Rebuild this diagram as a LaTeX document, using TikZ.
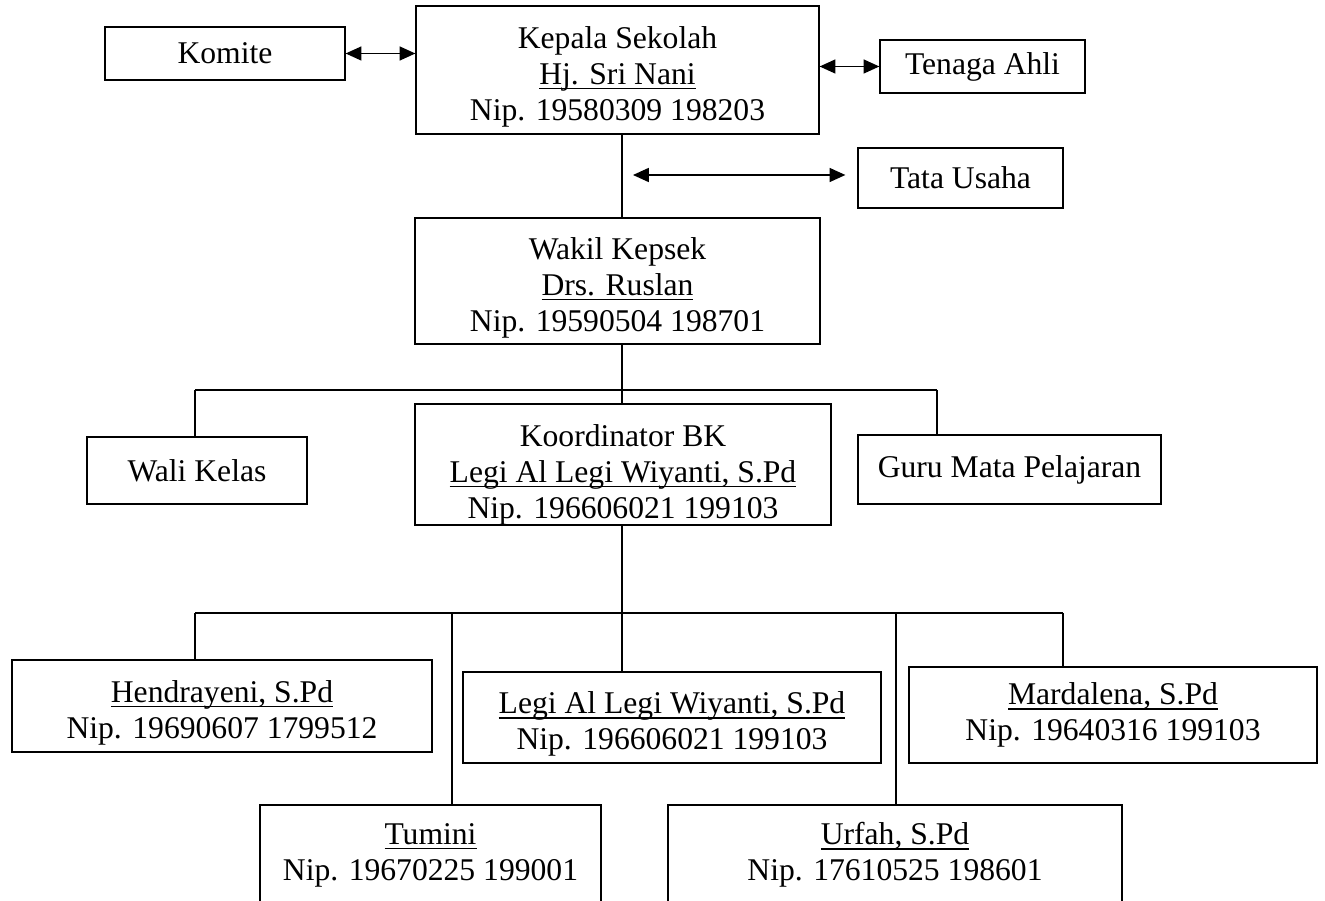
\documentclass[tikz,border=0pt]{standalone}
\usepackage{fontspec}
\setmainfont{Liberation Serif}
\usepackage{tikz}
\usetikzlibrary{arrows.meta}

% underlined name, Word style
\newcommand{\nama}[1]{\leavevmode\setbox0=\hbox{#1}\rlap{\rule[-2.8pt]{\wd0}{0.75pt}}\box0}
% extra head room on the first line
\newcommand{\naik}{\rule{0pt}{20pt}}

\begin{document}
\begin{tikzpicture}[x=0.02cm, y=-0.02cm,
    >={Triangle[length=9pt, width=8pt]},
    box/.style={
      draw, line width=0.75pt, inner sep=0pt, align=center,
      font=\fontsize{18}{20.5}\selectfont
    },
    link/.style={line width=0.75pt},
    duo/.style={<->, line width=0.75pt}
  ]
  \useasboundingbox (0,0) rectangle (1325,901);

  % ===== Top: head of school and helpers =====
  \node[box, minimum width=8.06cm, minimum height=2.56cm] (kepala) at (617.5,70) {
    \naik Kepala Sekolah\\
    \nama{Hj. Sri Nani}\\
    Nip. 19580309 198203
  };
  \node[box, minimum width=4.8cm, minimum height=1.06cm] (komite) at (225,53.5) {Komite};
  \node[box, minimum width=4.1cm, minimum height=1.06cm] (tenaga) at (982.5,66.5) {Tenaga Ahli};
  \node[box, minimum width=4.1cm, minimum height=1.2cm] (tata) at (960.5,178) {Tata Usaha};

  \draw[duo] (komite.east) -- (komite.east -| kepala.west);
  \draw[duo] (kepala.east |- tenaga.west) -- (tenaga.west);

  % spine and free arrow to Tata Usaha
  \coordinate (spine) at (622,0);
  \coordinate (tuL) at (633,175);
  \draw[duo, shorten >=0.24cm] (tuL) -- (tuL -| tata.west);

  % ===== Deputy =====
  \node[box, minimum width=8.1cm, minimum height=2.52cm] (wakil) at (617.5,281) {
    \naik Wakil Kepsek\\
    \nama{Drs. Ruslan}\\
    Nip. 19590504 198701
  };
  \draw[link] (kepala.south -| spine) -- (wakil.north -| spine);

  % ===== Middle row =====
  \node[box, minimum width=4.4cm, minimum height=1.34cm] (wali) at (197,470.5) {Wali Kelas};
  \node[box, minimum width=8.32cm, minimum height=2.38cm] (koord) at (623,464.5) {
    \rule{0pt}{24pt}Koordinator BK\\
    \nama{Legi Al Legi Wiyanti, S.Pd}\\
    Nip. 196606021 199103
  };
  \node[box, minimum width=6.06cm, minimum height=1.38cm] (guru) at (1009.5,469.5) {Guru Mata Pelajaran};

  \coordinate (barA) at (622,390);
  \coordinate (waliT) at (195,390);
  \coordinate (guruT) at (937,390);
  \draw[link] (wakil.south -| spine) -- (barA);
  \draw[link] (waliT) -- (guruT);
  \draw[link] (waliT) -- (waliT |- wali.north);
  \draw[link] (barA) -- (barA |- koord.north);
  \draw[link] (guruT) -- (guruT |- guru.north);

  % ===== Bottom: counsellors =====
  \node[box, minimum width=8.4cm, minimum height=1.84cm] (hendra) at (222,706) {
    \naik\nama{Hendrayeni, S.Pd}\\
    Nip. 19690607 1799512
  };
  \node[box, minimum width=8.36cm, minimum height=1.82cm] (legi) at (672,717.5) {
    \naik\nama{Legi Al Legi Wiyanti, S.Pd}\\
    Nip. 196606021 199103
  };
  \node[box, minimum width=8.16cm, minimum height=1.92cm] (marda) at (1113,715) {
    \nama{Mardalena, S.Pd}\\
    Nip. 19640316 199103
  };
  \node[box, minimum width=6.82cm, minimum height=2.0cm] (tumini) at (430.5,855) {
    \nama{Tumini}\\
    Nip. 19670225 199001
  };
  \node[box, minimum width=9.08cm, minimum height=2.0cm] (urfah) at (895,855) {
    \nama{Urfah, S.Pd}\\
    Nip. 17610525 198601
  };

  \coordinate (barB) at (622,613);
  \coordinate (hendraT) at (195,613);
  \coordinate (tuminiT) at (452,613);
  \coordinate (urfahT) at (896,613);
  \coordinate (mardaT) at (1063,613);
  \draw[link] (koord.south -| barB) -- (barB);
  \draw[link] (hendraT) -- (mardaT);
  \draw[link] (hendraT) -- (hendraT |- hendra.north);
  \draw[link] (tuminiT) -- (tuminiT |- tumini.north);
  \draw[link] (barB) -- (barB |- legi.north);
  \draw[link] (urfahT) -- (urfahT |- urfah.north);
  \draw[link] (mardaT) -- (mardaT |- marda.north);

\end{tikzpicture}
\end{document}
